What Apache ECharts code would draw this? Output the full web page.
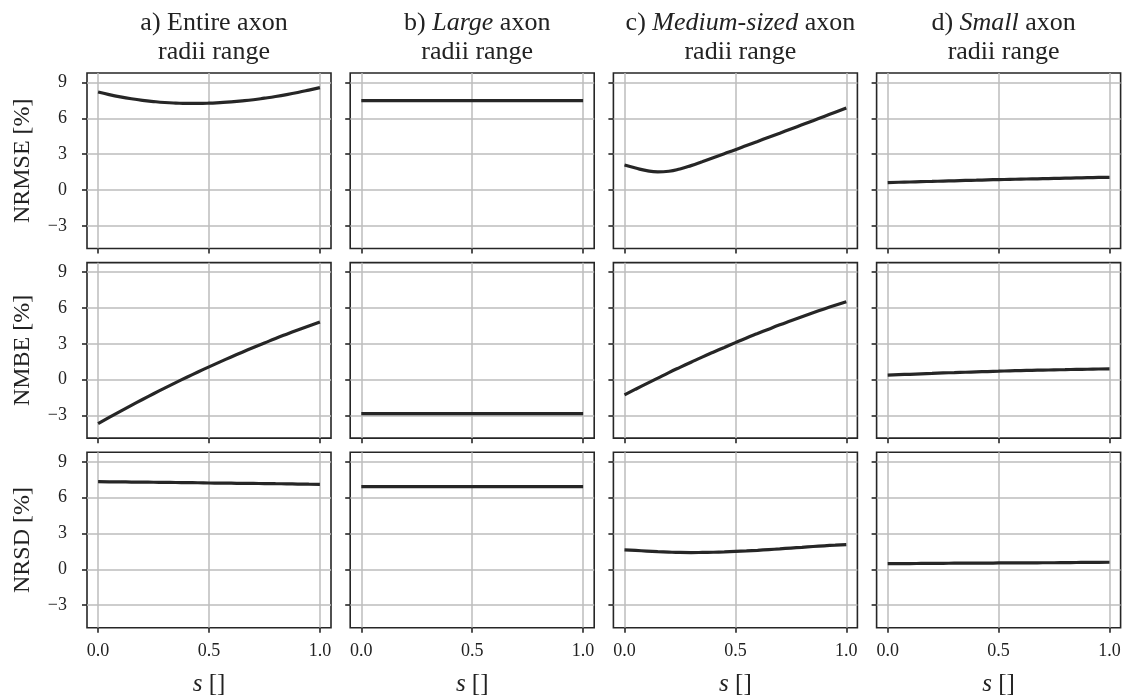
<!DOCTYPE html>
<html>
<head>
<meta charset="utf-8">
<script src="https://cdn.jsdelivr.net/npm/echarts@6/dist/echarts.min.js"></script>
<style>html,body{margin:0;padding:0;background:#fff;}#chart{width:1126px;height:699px;}</style>
</head>
<body>
<div id="chart"></div>
<script>
// ---- data ----
const sValues = [0, 0.05, 0.1, 0.15, 0.2, 0.25, 0.3, 0.35, 0.4, 0.45, 0.5,
                 0.55, 0.6, 0.65, 0.7, 0.75, 0.8, 0.85, 0.9, 0.95, 1.0];
const colPrefix = ['a) ', 'b) ', 'c) ', 'd) '];
const colItalic = ['', 'Large', 'Medium-sized', 'Small'];
const colSuffix = ['Entire axon', ' axon', ' axon', ' axon'];
const titleLine2 = 'radii range';
const rowNames = ['NRMSE [%]', 'NMBE [%]', 'NRSD [%]'];
const yTicks = [-3, 0, 3, 6, 9];
const xTicks = [0, 0.5, 1];

const nrmseEntire = [8.21, 7.99, 7.80, 7.64, 7.51, 7.41, 7.33, 7.28, 7.25, 7.25, 7.27,
                     7.32, 7.38, 7.46, 7.56, 7.69, 7.83, 7.99, 8.17, 8.37, 8.58];
const nrmseLarge  = [7.48, 7.48, 7.48, 7.48, 7.48, 7.48, 7.48, 7.48, 7.48, 7.48, 7.48,
                     7.48, 7.48, 7.48, 7.48, 7.48, 7.48, 7.48, 7.48, 7.48, 7.48];
const nrmseMedium = [2.09, 1.84, 1.62, 1.52, 1.57, 1.76, 2.04, 2.37, 2.71, 3.04, 3.37,
                     3.72, 4.07, 4.42, 4.76, 5.11, 5.46, 5.81, 6.16, 6.51, 6.86];
const nrmseSmall  = [0.62, 0.65, 0.67, 0.70, 0.72, 0.75, 0.77, 0.80, 0.82, 0.85, 0.87,
                     0.89, 0.91, 0.93, 0.95, 0.97, 0.99, 1.01, 1.03, 1.05, 1.06];

const nmbeEntire = [-3.68, -3.16, -2.65, -2.15, -1.66, -1.18, -0.71, -0.25, 0.20, 0.64, 1.07,
                    1.49, 1.90, 2.30, 2.69, 3.07, 3.45, 3.81, 4.16, 4.50, 4.83];
const nmbeLarge  = [-2.85, -2.85, -2.85, -2.85, -2.85, -2.85, -2.85, -2.85, -2.85, -2.85, -2.85,
                    -2.85, -2.85, -2.85, -2.85, -2.85, -2.85, -2.85, -2.85, -2.85, -2.85];
const nmbeMedium = [-1.28, -0.80, -0.33, 0.13, 0.59, 1.03, 1.46, 1.89, 2.30, 2.70, 3.10,
                    3.49, 3.86, 4.23, 4.59, 4.93, 5.27, 5.60, 5.92, 6.23, 6.53];
const nmbeSmall  = [0.38, 0.42, 0.45, 0.49, 0.52, 0.56, 0.59, 0.62, 0.65, 0.68, 0.71,
                    0.74, 0.76, 0.78, 0.80, 0.82, 0.84, 0.86, 0.87, 0.89, 0.90];

const nrsdEntire = [7.34, 7.33, 7.32, 7.31, 7.30, 7.29, 7.28, 7.27, 7.26, 7.25, 7.23,
                    7.22, 7.21, 7.20, 7.19, 7.18, 7.17, 7.16, 7.14, 7.13, 7.12];
const nrsdLarge  = [6.92, 6.92, 6.92, 6.92, 6.92, 6.92, 6.92, 6.92, 6.92, 6.92, 6.92,
                    6.92, 6.92, 6.92, 6.92, 6.92, 6.92, 6.92, 6.92, 6.92, 6.92];
const nrsdMedium = [1.63, 1.58, 1.53, 1.48, 1.44, 1.41, 1.40, 1.41, 1.43, 1.46, 1.50,
                    1.54, 1.59, 1.65, 1.71, 1.78, 1.84, 1.91, 1.97, 2.02, 2.07];
const nrsdSmall  = [0.47, 0.48, 0.48, 0.49, 0.50, 0.50, 0.51, 0.51, 0.52, 0.52, 0.53,
                    0.53, 0.54, 0.54, 0.55, 0.55, 0.56, 0.57, 0.58, 0.58, 0.59];

const panelData = [
  [nrmseEntire, nrmseLarge, nrmseMedium, nrmseSmall],
  [nmbeEntire, nmbeLarge, nmbeMedium, nmbeSmall],
  [nrsdEntire, nrsdLarge, nrsdMedium, nrsdSmall]
];

// ---- layout & style ----
const FONT = 'Liberation Serif';
const TXT = '#222222';
const DARK = '#262626';
const GRIDC = '#bdbdbd';
const LEFT0 = 87, COLSTEP = 263.2, PW = 244;
const TOP0 = 73, ROWSTEP = 189.65, PH = 175.5;

const grids = [], xAxes = [], yAxes = [], series = [], titles = [];
for (let r = 0; r < 3; r++) {
  for (let c = 0; c < 4; c++) {
    const idx = grids.length;
    grids.push({
      left: LEFT0 + c * COLSTEP, top: TOP0 + r * ROWSTEP, width: PW, height: PH,
      show: true, borderColor: DARK, borderWidth: 1.6, backgroundColor: 'transparent',
      outerBoundsMode: 'none', containLabel: false
    });
    xAxes.push({
      type: 'value', gridIndex: idx, min: -0.05, max: 1.05,
      axisLine: { show: false, onZero: false },
      axisTick: { show: true, inside: false, length: 5, customValues: xTicks, lineStyle: { color: DARK, width: 1.6 } },
      axisLabel: { show: r === 2, customValues: xTicks, margin: 14, fontFamily: FONT, fontSize: 18, color: TXT,
                   formatter: v => Number(v).toFixed(1) },
      splitLine: { show: true, lineStyle: { color: GRIDC, width: 1.5 } },
      name: r === 2 ? '{i|s}{n| []}' : '',
      nameLocation: 'middle', nameGap: 44,
      nameTextStyle: { rich: {
        i: { fontFamily: FONT, fontSize: 25, fontStyle: 'italic', color: TXT },
        n: { fontFamily: FONT, fontSize: 25, color: TXT }
      } }
    });
    yAxes.push({
      type: 'value', gridIndex: idx, min: -4.9, max: 9.8,
      axisLine: { show: false, onZero: false },
      axisTick: { show: true, inside: false, length: 5, customValues: yTicks, lineStyle: { color: DARK, width: 1.6 } },
      axisLabel: { show: c === 0, customValues: yTicks, margin: 20, fontFamily: FONT, fontSize: 18, color: TXT,
                   formatter: v => (v < 0 ? '\u2212' + Math.abs(v) : String(v)) },
      splitLine: { show: true, lineStyle: { color: GRIDC, width: 1.5 } },
      name: c === 0 ? rowNames[r] : '',
      nameLocation: 'middle', nameGap: 52, nameRotate: 90,
      nameTextStyle: { fontFamily: FONT, fontSize: 24, color: TXT }
    });
    series.push({
      type: 'line', xAxisIndex: idx, yAxisIndex: idx, smooth: true, symbol: 'none',
      lineStyle: { color: DARK, width: 3.2 },
      data: sValues.map((s, k) => [s, panelData[r][c][k]])
    });
  }
}
for (let c = 0; c < 4; c++) {
  const line1 = colItalic[c]
    ? '{n|' + colPrefix[c] + '}{i|' + colItalic[c] + '}{n|' + colSuffix[c] + '}'
    : '{n|' + colPrefix[c] + colSuffix[c] + '}';
  titles.push({
    text: line1 + '\n{n|' + titleLine2 + '}',
    left: LEFT0 + c * COLSTEP + PW / 2, top: 4, textAlign: 'center',
    textStyle: { fontWeight: 'normal', rich: {
      n: { fontFamily: FONT, fontSize: 26, fontWeight: 'normal', color: TXT, lineHeight: 29 },
      i: { fontFamily: FONT, fontSize: 26, fontWeight: 'normal', fontStyle: 'italic', color: TXT, lineHeight: 29 }
    } }
  });
}

const chart = echarts.init(document.getElementById('chart'), null, { renderer: 'canvas' });
chart.setOption({
  animation: false,
  backgroundColor: '#ffffff',
  title: titles,
  grid: grids,
  xAxis: xAxes,
  yAxis: yAxes,
  series: series
});
</script>
</body>
</html>
